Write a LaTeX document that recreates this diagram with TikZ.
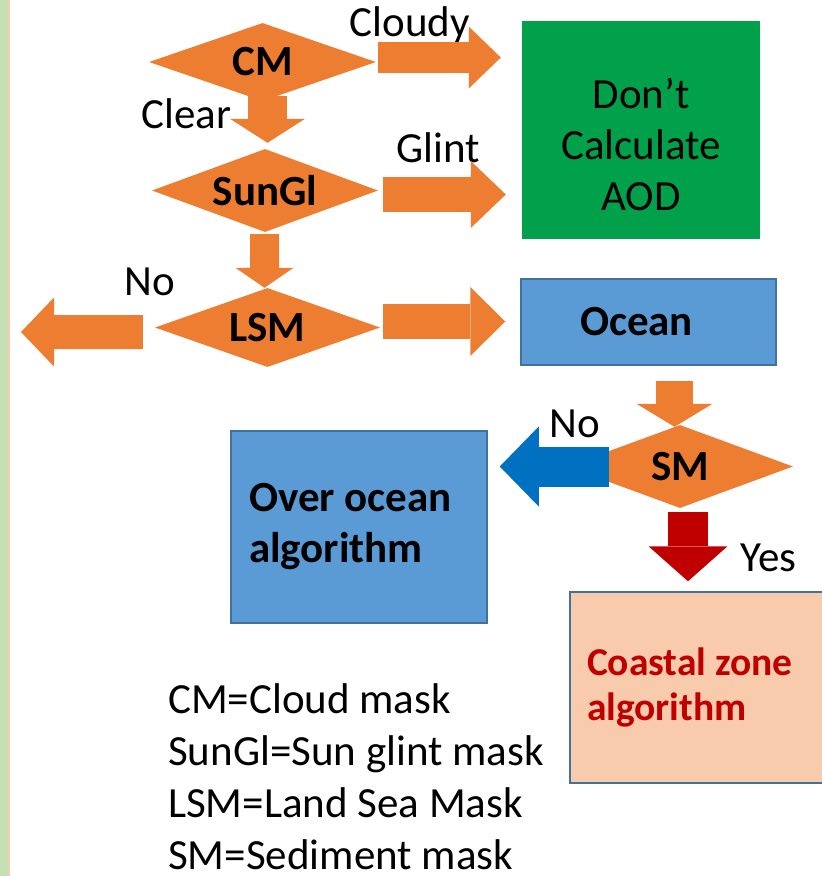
\documentclass[tikz,border=0pt]{standalone}
\usepackage{fontspec}
\setmainfont{Carlito}
\usetikzlibrary{shapes.geometric}
\usetikzlibrary{arrows.meta}
\usetikzlibrary{calc}
\definecolor{orange1}{RGB}{237, 125, 49}
\definecolor{green1}{RGB}{0, 161, 74}
\definecolor{green2}{RGB}{197, 224, 180}
\definecolor{blue1}{RGB}{91, 155, 213}
\definecolor{blue2}{RGB}{65, 113, 156}
\definecolor{blue3}{RGB}{0, 112, 192}
\definecolor{red1}{RGB}{192, 0, 0}
\definecolor{peach1}{RGB}{248, 203, 173}
\newcommand{\txtsize}{\fontsize{43bp}{51bp}\selectfont}

\begin{document}
\begin{tikzpicture}[x=1bp, y=-1bp, font=\txtsize,
  dia/.style={diamond, aspect=2.7, fill=orange1, inner sep=0pt, font=\txtsize\bfseries},
  fatarr/.style n args={4}{draw=#1, line width=#2bp, -{Triangle[length=#3bp, width=#4bp, line width=0pt]}}]
  \useasboundingbox (0,0) rectangle (822,876);
  \clip (0,0) rectangle (822,876);
  \fill[green2] (0,0) rectangle (8,876);
  \fill[peach1] (8,0) rectangle (10,876);

  \node[dia, minimum width=227bp, minimum height=78bp] (cm) at (262.5,62) {CM};
  \node[dia, minimum width=226bp, minimum height=83bp] (sungl) at (265,190.5) {SunGl};
  \node[dia, minimum width=225bp, minimum height=79bp] (lsm) at (267.5,327.5) {LSM};
  \node[dia, minimum width=226bp, minimum height=83bp] (sm) at (680,466.5) {SM};
  \node[fill=green1, minimum width=238bp, minimum height=218bp] (dca) at (641,130) {};
  \node[inner sep=0pt, align=center] (dcatext) at (641,144) {Don’t\\Calculate\\AOD};
  \node[fill=blue1, draw=blue2, line width=1.5bp, minimum width=255bp, minimum height=86bp,
    inner xsep=59bp, text width=137bp, align=flush left, font=\txtsize\bfseries] (ocean) at (648.5,322) {Ocean};
  \node[fill=blue1, draw=blue2, line width=1.5bp, minimum width=256bp, minimum height=192bp,
    inner xsep=18bp, text width=220bp, align=flush left, font=\txtsize\bfseries] (over) at (359,527) {Over ocean\\algorithm};
  \node[fill=peach1, draw=blue2, line width=1.5bp, minimum width=276bp, minimum height=191bp,
    inner xsep=17bp, text width=242bp, align=flush left, text=red1,
    font=\fontsize{39.5bp}{45bp}\selectfont\bfseries] (coastal) at (708,687.5) {Coastal zone\\algorithm};
  \coordinate (land) at (21,332);

  \node[anchor=base] (cloudy) at (410,36) {Cloudy};
  \node[anchor=base] (clear) at (186.5,128) {Clear};
  \node[anchor=base] (glint) at (438.5,162) {Glint};
  \node[anchor=base] (noland) at (149.5,295) {No};
  \node[anchor=base] (nosed) at (575,437) {No};
  \node[anchor=base] (yes) at (768.5,571) {Yes};
  \node[anchor=west, align=left, inner sep=0pt, font=\fontsize{43bp}{52bp}\selectfont] (legend) at (168,777)
    {CM=Cloud mask\\SunGl=Sun glint mask\\LSM=Land Sea Mask\\SM=Sediment mask};

  \draw[fatarr={orange1}{39}{24}{75}] ($(cm.south)+(5,-5)$) -- ($(sungl.north)+(2.5,-6)$);
  \draw[fatarr={orange1}{29}{20}{58}] ($(sungl.south)+(-0.5,2)$) -- ($(lsm.north)+(-3,0)$);
  \draw[fatarr={orange1}{31}{32}{62}] ($(cm.east)+(2,-4.5)$) -- ($(cm.east -| dca.west)+(-21,-4.5)$);
  \draw[fatarr={orange1}{35}{35}{67}] ($(sungl.east)+(5,4)$) -- ($(sungl.east -| dca.west)+(-16,4)$);
  \draw[fatarr={orange1}{35}{35}{69}] ($(lsm.east)+(3,-6)$) -- ($(lsm.east -| ocean.west)+(-15,-6)$);
  \draw[fatarr={orange1}{34}{33}{69}] ($(lsm.west)+(-12,4.5)$) -- (land);
  \draw[fatarr={orange1}{37}{23}{76}] ($(sm.north |- ocean.south)+(-5.5,15)$) -- ($(sm.north)+(-5.5,2)$);
  \draw[fatarr={blue3}{40}{39}{80}] ($(sm.west)+(42,0)$) -- ($(sm.west -| over.east)+(12,0)$);
  \draw[fatarr={red1}{40}{35}{79}] ($(sm.south)+(8,4)$) -- ($(sm.south |- coastal.north)+(8,-10)$);
\end{tikzpicture}
\end{document}
